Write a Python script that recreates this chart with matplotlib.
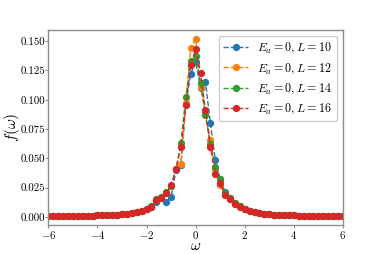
import numpy as np
import matplotlib as mpl
mpl.use('Agg')
import matplotlib.pyplot as plt

# omega grid, step 0.2 from -6 to 6
omega = np.linspace(-6, 6, 61)

# f(omega), one list per system size
f_L10 = [0.0006, 0.0006, 0.0007, 0.0007, 0.0008, 0.0008, 0.0009, 0.0010, 0.0010, 0.0011,
         0.0012, 0.0014, 0.0015, 0.0017, 0.0020, 0.0023, 0.0027, 0.0032, 0.0040, 0.0050,
         0.0064, 0.0085, 0.0125, 0.0165, 0.0130, 0.0170, 0.0400, 0.0440, 0.0960, 0.1220,
         0.1325, 0.1100, 0.1150, 0.0800, 0.0487, 0.0320, 0.0210, 0.0160, 0.0120, 0.0090,
         0.0066, 0.0051, 0.0042, 0.0033, 0.0027, 0.0023, 0.0020, 0.0017, 0.0015, 0.0014,
         0.0012, 0.0011, 0.0010, 0.0010, 0.0009, 0.0008, 0.0008, 0.0007, 0.0007, 0.0006,
         0.0006]
f_L12 = [0.0006, 0.0006, 0.0007, 0.0007, 0.0008, 0.0008, 0.0009, 0.0010, 0.0010, 0.0011,
         0.0012, 0.0014, 0.0015, 0.0017, 0.0020, 0.0023, 0.0027, 0.0032, 0.0041, 0.0051,
         0.0066, 0.0088, 0.0140, 0.0160, 0.0200, 0.0260, 0.0410, 0.0450, 0.0970, 0.1440,
         0.1520, 0.1110, 0.0890, 0.0660, 0.0410, 0.0270, 0.0190, 0.0150, 0.0110, 0.0095,
         0.0070, 0.0052, 0.0042, 0.0033, 0.0027, 0.0023, 0.0020, 0.0017, 0.0015, 0.0014,
         0.0012, 0.0011, 0.0010, 0.0010, 0.0009, 0.0008, 0.0008, 0.0007, 0.0007, 0.0006,
         0.0006]
f_L14 = [0.0006, 0.0006, 0.0007, 0.0007, 0.0008, 0.0008, 0.0009, 0.0010, 0.0010, 0.0011,
         0.0012, 0.0014, 0.0015, 0.0017, 0.0020, 0.0023, 0.0027, 0.0032, 0.0040, 0.0050,
         0.0065, 0.0090, 0.0150, 0.0170, 0.0210, 0.0260, 0.0410, 0.0630, 0.1026, 0.1330,
         0.1370, 0.1140, 0.0870, 0.0620, 0.0430, 0.0320, 0.0200, 0.0160, 0.0120, 0.0090,
         0.0068, 0.0051, 0.0042, 0.0033, 0.0027, 0.0023, 0.0020, 0.0017, 0.0015, 0.0014,
         0.0012, 0.0011, 0.0010, 0.0010, 0.0009, 0.0008, 0.0008, 0.0007, 0.0007, 0.0006,
         0.0006]
f_L16 = [0.0006, 0.0006, 0.0007, 0.0007, 0.0008, 0.0008, 0.0009, 0.0010, 0.0010, 0.0011,
         0.0012, 0.0014, 0.0015, 0.0017, 0.0020, 0.0023, 0.0027, 0.0032, 0.0040, 0.0050,
         0.0064, 0.0085, 0.0140, 0.0160, 0.0200, 0.0270, 0.0407, 0.0600, 0.0955, 0.1300,
         0.1430, 0.1230, 0.0910, 0.0600, 0.0370, 0.0290, 0.0190, 0.0150, 0.0110, 0.0088,
         0.0066, 0.0050, 0.0041, 0.0032, 0.0027, 0.0023, 0.0020, 0.0017, 0.0015, 0.0014,
         0.0012, 0.0011, 0.0010, 0.0010, 0.0009, 0.0008, 0.0008, 0.0007, 0.0007, 0.0006,
         0.0006]

sizes = [10, 12, 14, 16]
series = [f_L10, f_L12, f_L14, f_L16]
colors = ['#1f77b4', '#ff7f0e', '#2ca02c', '#d62728']

plt.rcParams['mathtext.fontset'] = 'cm'
plt.rcParams['font.family'] = 'serif'
plt.rcParams['font.serif'] = ['cmr10', 'DejaVu Serif']
plt.rcParams['axes.formatter.use_mathtext'] = True

fig = plt.figure(figsize=(3.81, 2.54), dpi=100)
ax = fig.add_axes([0.127, 0.114, 0.773, 0.768])

for L, f, c in zip(sizes, series, colors):
    ax.plot(omega, f, '--o', color=c, lw=1.0, ms=4.2,
            label=r'$E_a=0,L=%d$' % L)

ax.set_xlim(-6, 6)
ax.set_xticks([-6, -4, -2, 0, 2, 4, 6])
ax.set_yticks([0, 0.025, 0.05, 0.075, 0.1, 0.125, 0.15])
ax.set_yticklabels(['0.000', '0.025', '0.050', '0.075', '0.100', '0.125', '0.150'])
ax.tick_params(labelsize=7.8, length=2, width=0.8, color='0.55', pad=0.5)
for s in ax.spines.values():
    s.set_color('0.55')
    s.set_linewidth(1.0)

# label positions set by hand so they stay inside the small canvas
ax.set_xlabel(r'$\omega$', fontsize=11, va='bottom')
ax.xaxis.set_label_coords(0.5, -0.145)
ax.set_ylabel(r'$f(\omega)$', fontsize=11, va='top')
ax.yaxis.set_label_coords(-0.158, 0.5)

ax.legend(loc='upper right', fontsize=8.7, handlelength=2.0, framealpha=1.0)

plt.savefig('out.png', dpi=100)
